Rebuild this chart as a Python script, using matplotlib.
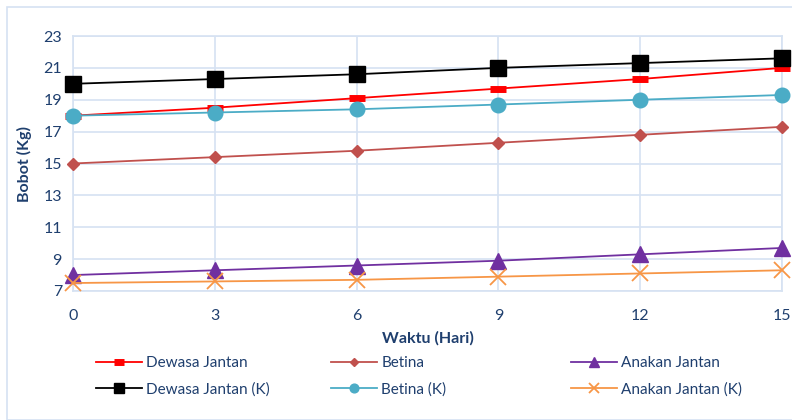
import matplotlib

matplotlib.use("Agg")

import matplotlib.pyplot as plt
from matplotlib.patches import Rectangle

plt.rcParams["font.family"] = ["Lato", "DejaVu Sans"]

# Data
hari = [0, 3, 6, 9, 12, 15]
dewasa_jantan = [18.0, 18.5, 19.1, 19.7, 20.3, 21.0]
betina = [15.0, 15.4, 15.8, 16.3, 16.8, 17.3]
anakan_jantan = [8.0, 8.3, 8.6, 8.9, 9.3, 9.7]
dewasa_jantan_k = [20.0, 20.3, 20.6, 21.0, 21.3, 21.6]
betina_k = [18.0, 18.2, 18.4, 18.7, 19.0, 19.3]
anakan_jantan_k = [7.5, 7.6, 7.7, 7.9, 8.1, 8.3]

y_ticks = [7, 9, 11, 13, 15, 17, 19, 21, 23]
x_ticks = hari

TXT = "#1F3F6E"
GRID = "#D6E2F2"

fig = plt.figure(figsize=(7.92, 4.2), dpi=100)
fig.patches.append(Rectangle((7 / 792, 0.0), 1.0, 1 - 7 / 420, transform=fig.transFigure,
                             fill=False, edgecolor=GRID, lw=1.2))
ax = fig.add_axes([73 / 792, 1 - 291 / 420, (782 - 73) / 792, (291 - 36) / 420])

series = [
    ("Dewasa Jantan", dewasa_jantan, dict(color="#FF0000", marker="_", ms=12, mew=5)),
    ("Dewasa Jantan (K)", dewasa_jantan_k, dict(color="#000000", marker="s", ms=12)),
    ("Betina", betina, dict(color="#C0504D", marker="D", ms=6.5)),
    ("Betina (K)", betina_k, dict(color="#4BACC6", marker="o", ms=10.5)),
    ("Anakan Jantan", anakan_jantan, dict(color="#7030A0", marker="^", ms=11)),
    ("Anakan Jantan (K)", anakan_jantan_k, dict(color="#F79646", marker="x", ms=11, mew=1.3)),
]
handles = []
for name, vals, st in series:
    h, = ax.plot(hari, vals, lw=1.3, label=name, clip_on=False, zorder=3, **st)
    handles.append(h)

ax.set_xlim(0, 15)
ax.set_ylim(7, 23)
ax.set_xticks(x_ticks)
ax.set_yticks(y_ticks)
ax.grid(True, color=GRID, lw=1.2)
ax.set_axisbelow(True)
for s in ax.spines.values():
    s.set_color(GRID)
    s.set_linewidth(1.2)
ax.tick_params(length=0, colors=TXT, labelsize=11.5)
ax.tick_params(axis="x", pad=13)
ax.tick_params(axis="y", pad=8)
ax.set_xlabel("Waktu (Hari)", color=TXT, fontsize=11.5, fontweight="bold", labelpad=6)
ax.set_ylabel("Bobot (Kg)", color=TXT, fontsize=11.5, fontweight="bold", labelpad=8)

# three legend columns, each placed where the reference has it
for i, x0 in enumerate([96, 331, 571]):
    leg = fig.legend(handles=handles[2 * i:2 * i + 2], loc="upper left",
                     bbox_to_anchor=(x0 / 792, 1 - 356 / 420), frameon=False,
                     fontsize=11, handlelength=3.0, labelspacing=0.8,
                     handletextpad=0.3, markerscale=0.6, borderaxespad=0,
                     borderpad=0)
    for t in leg.get_texts():
        t.set_color(TXT)

fig.savefig("out.png", dpi=100)
